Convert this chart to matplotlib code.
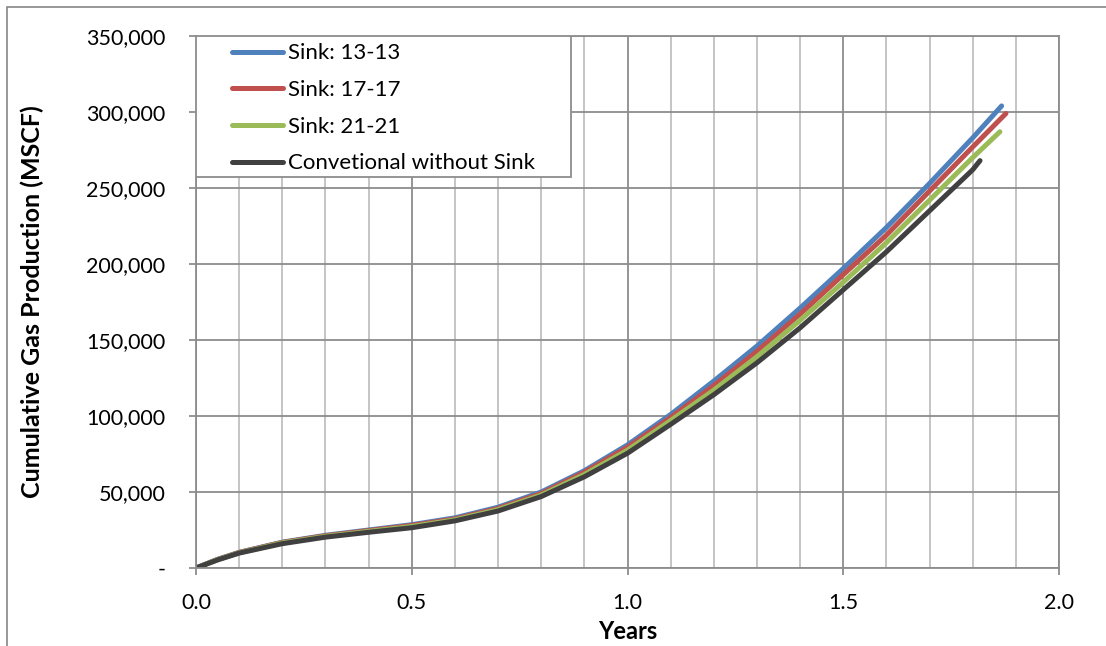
import matplotlib
matplotlib.use("Agg")
import matplotlib.pyplot as plt
from matplotlib.patches import Rectangle
from matplotlib.ticker import FuncFormatter, MultipleLocator

plt.rcParams['font.family'] = ['Lato', 'DejaVu Sans']

# years
x_13 = [0.0, 0.05, 0.1, 0.2, 0.3, 0.4, 0.5, 0.6, 0.7, 0.8, 0.9, 1.0, 1.1, 1.2, 1.3, 1.4, 1.5, 1.6, 1.7, 1.8, 1.867]
x_17 = [0.0, 0.05, 0.1, 0.2, 0.3, 0.4, 0.5, 0.6, 0.7, 0.8, 0.9, 1.0, 1.1, 1.2, 1.3, 1.4, 1.5, 1.6, 1.7, 1.8, 1.877]
x_21 = [0.0, 0.05, 0.1, 0.2, 0.3, 0.4, 0.5, 0.6, 0.7, 0.8, 0.9, 1.0, 1.1, 1.2, 1.3, 1.4, 1.5, 1.6, 1.7, 1.8, 1.863]
x_conv = [0.0, 0.05, 0.1, 0.2, 0.3, 0.4, 0.5, 0.6, 0.7, 0.8, 0.9, 1.0, 1.1, 1.2, 1.3, 1.4, 1.5, 1.6, 1.7, 1.8, 1.817]

# cumulative gas (MSCF)
sink_13 = [0, 5700, 10300, 17000, 21500, 25000, 28500, 33000, 40000, 50000, 64000, 81000,
           101000, 123000, 146000, 171000, 197000, 224000, 253000, 283000, 304000]
sink_17 = [0, 5600, 10200, 16800, 21200, 24600, 28000, 32300, 39200, 49000, 63000, 79500,
           99000, 120000, 142500, 167000, 193000, 219000, 248000, 277000, 299000]
sink_21 = [0, 5500, 10000, 16500, 20800, 24100, 27300, 31700, 38400, 48000, 61500, 77500,
           97000, 117000, 139000, 163000, 188000, 214000, 242000, 270000, 287000]
conv = [0, 5300, 9800, 16000, 20300, 23500, 26500, 31000, 37500, 47000, 60000, 75500,
        94500, 114000, 135000, 158000, 183000, 208000, 235000, 262000, 268000]

series = [
    ("Sink: 13-13", x_13, sink_13, "#4F81BD"),
    ("Sink: 17-17", x_17, sink_17, "#C0504D"),
    ("Sink: 21-21", x_21, sink_21, "#9BBB59"),
    ("Convetional without Sink", x_conv, conv, "#404040"),
]

fig = plt.figure(figsize=(11.06, 6.46), dpi=100)
ax = fig.add_axes([196 / 1106, 1 - 568 / 646, (1059 - 196) / 1106, (568 - 36) / 646])

# outer chart border
fig.patches.append(Rectangle((7 / 1106, -0.1), 1.2, 1 - 7 / 646 + 0.1, transform=fig.transFigure,
                             fill=False, edgecolor="#868686", lw=1.2))

for label, xs, ys, c in series:
    ax.plot(xs, ys, color=c, lw=3.6, label=label, solid_capstyle="round")

ax.set_xlim(0, 2.0)
ax.set_ylim(0, 350000)
ax.xaxis.set_major_locator(MultipleLocator(0.5))
ax.xaxis.set_minor_locator(MultipleLocator(0.1))
ax.yaxis.set_major_locator(MultipleLocator(50000))
ax.xaxis.set_major_formatter(FuncFormatter(lambda v, p: f"{v:.1f}"))
ax.yaxis.set_major_formatter(FuncFormatter(lambda v, p: "-" if v == 0 else f"{v:,.0f}"))

ax.grid(which="minor", axis="x", color="#BFBFBF", lw=1.3)
ax.grid(which="major", axis="x", color="#8C8C8C", lw=1.3)
ax.grid(which="major", axis="y", color="#8C8C8C", lw=1.3)
ax.set_axisbelow(True)

for s in ax.spines.values():
    s.set_color("#8C8C8C")
    s.set_linewidth(1.3)

ax.tick_params(axis="both", which="major", direction="out", length=5, color="#8C8C8C",
               labelsize=15.5, width=1.3)
ax.tick_params(axis="x", which="minor", length=0)
ax.tick_params(axis="y", pad=17)
ax.tick_params(axis="x", pad=13)

ax.set_xlabel("Years", fontsize=17, fontweight="bold", labelpad=5)
ax.set_ylabel("Cumulative Gas Production (MSCF)", fontsize=18, fontweight="bold", labelpad=30)

# legend frame drawn separately, legend entries without frame
ax.add_patch(Rectangle((0, (568 - 177) / 532), (571 - 196) / 863, (177 - 36) / 532,
                       transform=ax.transAxes, facecolor="white", edgecolor="#8C8C8C",
                       lw=1.3, zorder=4))
leg = ax.legend(loc="upper left", bbox_to_anchor=(36 / 863, 0.986), frameon=False,
                fontsize=16, handlelength=2.3, handletextpad=0.22, labelspacing=0.75,
                borderpad=0, borderaxespad=0)
leg.set_zorder(5)

fig.savefig("out.png", dpi=100)
